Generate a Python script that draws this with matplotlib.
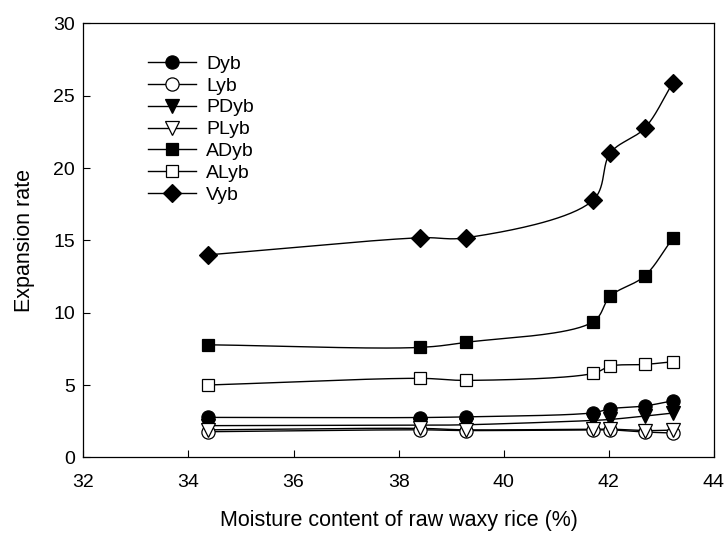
import numpy as np
import matplotlib
matplotlib.use("Agg")
import matplotlib.pyplot as plt
from matplotlib.lines import Line2D

plt.rcParams['font.family'] = ['Liberation Sans', 'DejaVu Sans']

moisture = [34.38, 38.40, 39.28, 41.70, 42.03, 42.68, 43.22]

dyb = [2.76, 2.75, 2.80, 3.08, 3.36, 3.55, 3.91]
lyb = [1.77, 1.90, 1.85, 1.90, 1.90, 1.75, 1.68]
pdyb = [2.19, 2.22, 2.25, 2.55, 2.62, 2.85, 3.06]
plyb = [1.90, 2.00, 1.90, 1.95, 1.95, 1.85, 1.88]
adyb = [7.78, 7.60, 7.95, 9.37, 11.15, 12.53, 15.18]
alyb = [5.00, 5.46, 5.32, 5.80, 6.31, 6.42, 6.61]
vyb = [14.00, 15.18, 15.18, 17.78, 21.05, 22.75, 25.90]

series_names = ["Dyb", "Lyb", "PDyb", "PLyb", "ADyb", "ALyb", "Vyb"]
series_values = [dyb, lyb, pdyb, plyb, adyb, alyb, vyb]
markers = ["o", "o", "v", "v", "s", "s", "D"]
fills = ["black", "white", "black", "white", "black", "white", "black"]
sizes = [9.5, 9.5, 10, 10, 9, 9, 9]

x_ticks = [32, 34, 36, 38, 40, 42, 44]
y_ticks = [0, 5, 10, 15, 20, 25, 30]

XLIM = (32, 44)
YLIM = (0, 30)


def smooth_path(ax, x, y, n=40, alpha=0.5):
    """Centripetal Catmull-Rom curve through the points, built in display space."""
    pts = ax.transData.transform(np.column_stack([x, y]))
    first = 2 * pts[0] - pts[1]
    last = 2 * pts[-1] - pts[-2]
    P = np.vstack([first, pts, last])
    out = []
    for i in range(1, len(P) - 2):
        p0, p1, p2, p3 = P[i - 1], P[i], P[i + 1], P[i + 2]
        t0 = 0.0
        t1 = t0 + np.linalg.norm(p1 - p0) ** alpha
        t2 = t1 + np.linalg.norm(p2 - p1) ** alpha
        t3 = t2 + np.linalg.norm(p3 - p2) ** alpha
        t = np.linspace(t1, t2, n)[:, None]
        a1 = (t1 - t) / (t1 - t0) * p0 + (t - t0) / (t1 - t0) * p1
        a2 = (t2 - t) / (t2 - t1) * p1 + (t - t1) / (t2 - t1) * p2
        a3 = (t3 - t) / (t3 - t2) * p2 + (t - t2) / (t3 - t2) * p3
        b1 = (t2 - t) / (t2 - t0) * a1 + (t - t0) / (t2 - t0) * a2
        b2 = (t3 - t) / (t3 - t1) * a2 + (t - t1) / (t3 - t1) * a3
        c = (t2 - t) / (t2 - t1) * b1 + (t - t1) / (t2 - t1) * b2
        out.append(c if i == 1 else c[1:])
    disp = np.vstack(out)
    data = ax.transData.inverted().transform(disp)
    return data[:, 0], data[:, 1]


fig = plt.figure(figsize=(7.27, 5.33), dpi=100)
ax = fig.add_axes([0.1146, 0.142, 0.8674, 0.814])
ax.set_xlim(*XLIM)
ax.set_ylim(*YLIM)

handles = []
for name, vals, mk, fc, ms in zip(series_names, series_values, markers, fills, sizes):
    sx, sy = smooth_path(ax, moisture, vals)
    ax.plot(sx, sy, color="black", lw=1.0, zorder=2)
    ax.plot(moisture, vals, linestyle="none", marker=mk, markersize=ms,
            markerfacecolor=fc, markeredgecolor="black", markeredgewidth=0.9,
            zorder=3)
    handles.append(Line2D([], [], color="black", lw=1.0, marker=mk,
                          markersize=ms, markerfacecolor=fc,
                          markeredgecolor="black", markeredgewidth=0.9,
                          label=name))

ax.set_xticks(x_ticks)
ax.set_yticks(y_ticks)
ax.tick_params(direction="in", length=5, width=0.8, labelsize=14, pad=6,
               top=False, right=False)
ax.tick_params(axis="x", pad=12)
for sp in ax.spines.values():
    sp.set_linewidth(0.9)

ax.set_xlabel("Moisture content of raw waxy rice (%)", fontsize=15.5, labelpad=14)
ax.set_ylabel("Expansion rate", fontsize=15.5, labelpad=13)

ax.legend(handles=handles, loc="upper left", bbox_to_anchor=(0.09, 0.945),
          frameon=False, fontsize=14, handlelength=2.5, handletextpad=0.5,
          labelspacing=0.22, borderaxespad=0.0)

fig.savefig("out.png", dpi=100)
